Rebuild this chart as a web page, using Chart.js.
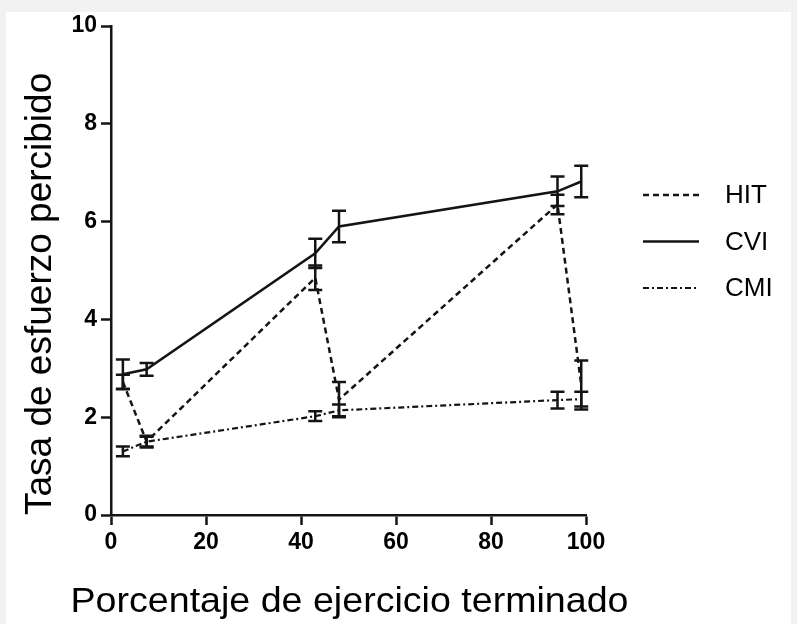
<!DOCTYPE html>
<html>
<head>
<meta charset="utf-8">
<script src="https://cdn.jsdelivr.net/npm/chart.js@4.4.1/dist/chart.umd.min.js"></script>
<style>
  html, body { margin: 0; padding: 0; background: #f2f2f2; }
  #wrap { width: 797px; height: 624px; }
</style>
</head>
<body>
<div id="wrap"><canvas id="grafico" width="797" height="624"></canvas></div>
<script>
// Datos
const porcentaje = [2.5, 7.5, 43, 48, 94, 99];
const xTicks = [0, 20, 40, 60, 80, 100];
const yTicks = [0, 2, 4, 6, 8, 10];

const hitValores = [2.72, 1.5, 4.85, 2.36, 6.35, 2.66];
const hitErrores = [0.15, 0.12, 0.25, 0.36, 0.2, 0.5];
const cviValores = [2.88, 2.98, 5.35, 5.9, 6.62, 6.82];
const cviErrores = [0.3, 0.13, 0.3, 0.32, 0.3, 0.32];
const cmiValores = [1.3, 1.5, 2.02, 2.14, 2.35, 2.37];
const cmiErrores = [0.1, 0.1, 0.1, 0.12, 0.17, 0.15];

const tituloX = 'Porcentaje de ejercicio terminado';
const tituloY = 'Tasa de esfuerzo percibido';

const FUENTE = '"Liberation Sans", Arial, Helvetica, sans-serif';
const NEGRO = '#141414';

const puntos = vals => vals.map((v, i) => ({ x: porcentaje[i], y: v }));
const erroresPorSerie = [hitErrores, cviErrores, cmiErrores];

// Fondo gris con recuadro blanco
const fondo = {
    id: 'fondo',
    beforeDraw(chart) {
        const { ctx, width, height } = chart;
        ctx.save();
        ctx.fillStyle = '#f2f2f2';
        ctx.fillRect(0, 0, width, height);
        ctx.fillStyle = '#ffffff';
        ctx.fillRect(6, 12, width - 12, height - 12);
        ctx.restore();
    }
};

// Barras de error
const barrasError = {
    id: 'barrasError',
    afterDatasetsDraw(chart) {
        const { ctx } = chart;
        const escalaY = chart.scales.y;
        chart.data.datasets.forEach((ds, i) => {
            const meta = chart.getDatasetMeta(i);
            const errores = erroresPorSerie[i];
            ctx.save();
            ctx.strokeStyle = NEGRO;
            ctx.lineWidth = 2.5;
            ctx.setLineDash([]);
            meta.data.forEach((pt, j) => {
                const v = ds.data[j].y;
                const y1 = escalaY.getPixelForValue(v + errores[j]);
                const y2 = escalaY.getPixelForValue(v - errores[j]);
                ctx.beginPath();
                ctx.moveTo(pt.x, y1); ctx.lineTo(pt.x, y2);
                ctx.moveTo(pt.x - 7, y1); ctx.lineTo(pt.x + 7, y1);
                ctx.moveTo(pt.x - 7, y2); ctx.lineTo(pt.x + 7, y2);
                ctx.stroke();
            });
            ctx.restore();
        });
    }
};

// Título del eje X, algo ensanchado como en el original
const tituloEjeX = {
    id: 'tituloEjeX',
    afterDraw(chart) {
        const { ctx, chartArea } = chart;
        ctx.save();
        ctx.font = '35px ' + FUENTE;
        ctx.fillStyle = '#000';
        ctx.textAlign = 'center';
        ctx.textBaseline = 'alphabetic';
        const ancho = ctx.measureText(tituloX).width;
        const escala = 558 / ancho;
        const cx = (chartArea.left + chartArea.right) / 2 + 1;
        ctx.translate(cx, 612);
        ctx.scale(escala, 1);
        ctx.fillText(tituloX, 0, 0);
        ctx.restore();
    }
};

// Leyenda a la derecha
const leyenda = {
    id: 'leyenda',
    afterDraw(chart) {
        const { ctx } = chart;
        ctx.save();
        chart.data.datasets.forEach((ds, i) => {
            const y = 195 + i * 46.5;
            ctx.strokeStyle = NEGRO;
            ctx.lineWidth = ds.borderWidth;
            ctx.setLineDash(ds.borderDash || []);
            ctx.beginPath();
            ctx.moveTo(643, y);
            ctx.lineTo(699, y);
            ctx.stroke();
            ctx.setLineDash([]);
            ctx.fillStyle = '#000';
            ctx.font = '26px ' + FUENTE;
            ctx.textAlign = 'left';
            ctx.textBaseline = 'middle';
            ctx.fillText(ds.label, 725, y + 1);
        });
        ctx.restore();
    }
};

const ctx = document.getElementById('grafico').getContext('2d');
new Chart(ctx, {
    type: 'line',
    data: {
        datasets: [
            {
                label: 'HIT',
                data: puntos(hitValores),
                borderColor: NEGRO,
                borderWidth: 2.5,
                borderDash: [6, 4]
            },
            {
                label: 'CVI',
                data: puntos(cviValores),
                borderColor: NEGRO,
                borderWidth: 2.5
            },
            {
                label: 'CMI',
                data: puntos(cmiValores),
                borderColor: NEGRO,
                borderWidth: 2.2,
                borderDash: [6, 3, 2, 3]
            }
        ]
    },
    options: {
        responsive: false,
        animation: false,
        devicePixelRatio: 1,
        layout: { padding: { top: 26, right: 211, bottom: 0, left: 0 } },
        elements: {
            point: { radius: 0, hoverRadius: 0 },
            line: { tension: 0, fill: false }
        },
        plugins: {
            legend: { display: false },
            tooltip: { enabled: false }
        },
        scales: {
            x: {
                type: 'linear',
                min: 0,
                max: 100,
                afterBuildTicks: s => { s.ticks = xTicks.map(v => ({ value: v })); },
                afterFit: s => { s.height = 109; },
                ticks: {
                    color: '#000',
                    padding: 4,
                    font: { family: FUENTE, size: 23, weight: 'bold' }
                },
                grid: {
                    drawOnChartArea: false,
                    tickLength: 10,
                    tickWidth: 2.5,
                    tickColor: NEGRO
                },
                border: { color: NEGRO, width: 2.5 },
                title: { display: false }
            },
            y: {
                type: 'linear',
                min: 0,
                max: 10,
                afterBuildTicks: s => { s.ticks = yTicks.map(v => ({ value: v })); },
                afterFit: s => { s.width = 111; },
                ticks: {
                    color: '#000',
                    padding: 4,
                    font: { family: FUENTE, size: 23, weight: 'bold' }
                },
                grid: {
                    drawOnChartArea: false,
                    tickLength: 10,
                    tickWidth: 2.5,
                    tickColor: NEGRO
                },
                border: { color: NEGRO, width: 2.5 },
                title: {
                    display: true,
                    text: tituloY,
                    align: 'start',
                    color: '#000',
                    font: { family: FUENTE, size: 37 },
                    padding: { top: 19, bottom: 0 }
                }
            }
        }
    },
    plugins: [fondo, barrasError, tituloEjeX, leyenda]
});
</script>
</body>
</html>
